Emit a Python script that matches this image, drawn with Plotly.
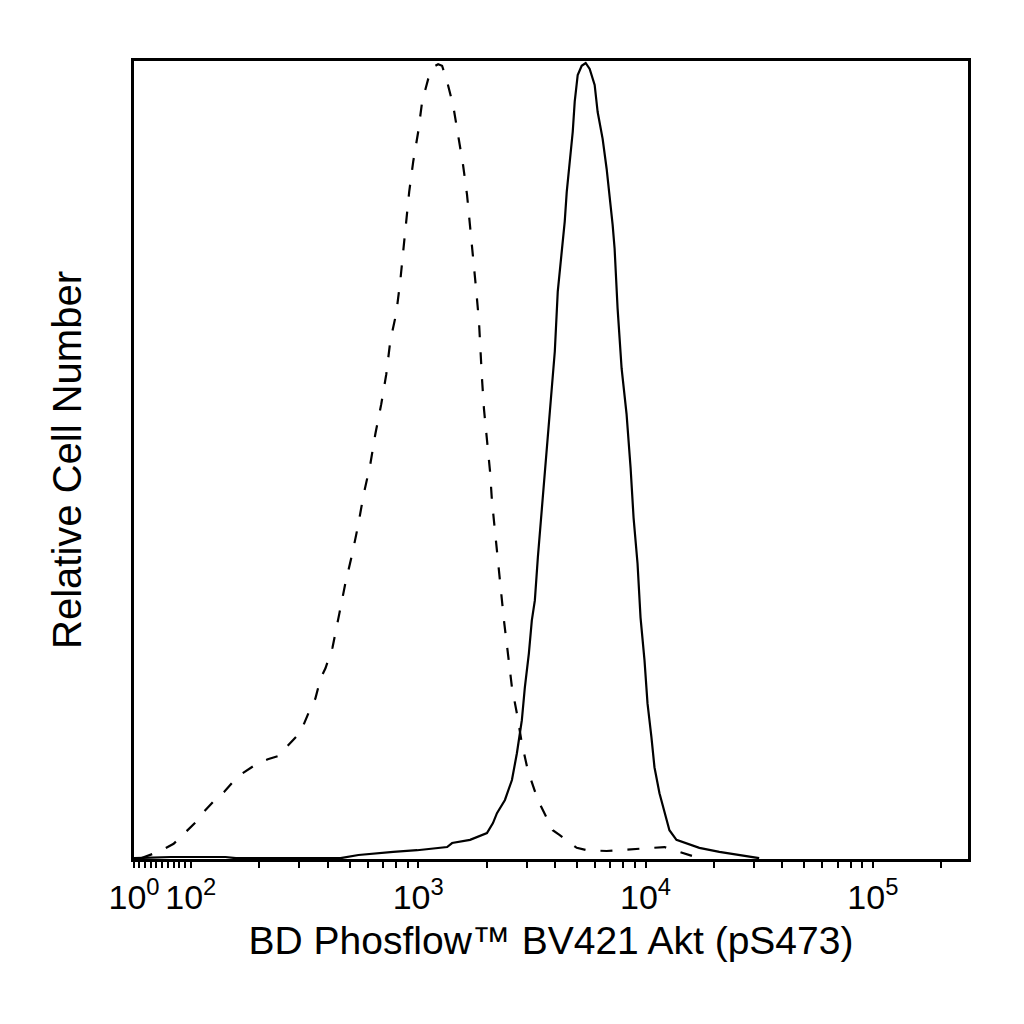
import math
import plotly.graph_objs as go

# fluorescence intensity (BV421) and relative cell number (% of peak)
unstim_x = [13, 27, 44, 70, 86, 105, 114, 131, 140, 158, 169, 197, 218, 248, 261, 295, 310, 336,
            353, 372, 391, 420, 450, 478, 513, 546, 574, 616, 648, 688, 724, 754, 801, 834, 859,
            886, 913, 951, 1000, 1041, 1107, 1164, 1224, 1274, 1341, 1424, 1498, 1575, 1640,
            1691, 1742, 1797, 1851, 1871, 1908, 1947, 2007, 2070, 2111, 2176, 2243, 2312, 2384,
            2482, 2585, 2718, 2858, 3037, 3360, 3909, 4196, 4983, 5511, 6745, 9130, 12110, 17250]
unstim_y = [0.1, 0.5, 0.9, 1.9, 3.0, 4.6, 5.9, 7.75, 8.4, 10.1, 10.75, 12.0, 12.5, 13.0, 13.9,
            15.5, 16.5, 18.9, 20.1, 22.6, 23.9, 26.5, 30.75, 34.5, 38.25, 42, 45.5, 49.5, 53.25,
            57, 60.75, 64.9, 68.4, 72.4, 76.1, 79.9, 83.6, 87.4, 91.1, 94.9, 97.75, 99.25, 99.6,
            99.4, 97.4, 94.5, 90.75, 87, 83.25, 79.5, 75.75, 71.5, 67.4, 64, 60.25, 56.4, 52.75,
            48.6, 44.9, 41.1, 37.4, 33.6, 29.9, 25.75, 21.5, 18.25, 14.5, 11.1, 7.4, 3.6, 3.0,
            1.4, 1.1, 1.0, 1.25, 1.5, 0.1]

stim_x = [1, 65, 142, 158, 455, 546, 777, 990, 1341, 1410, 1691, 2007, 2133, 2221, 2408, 2585,
          2718, 2858, 2946, 3068, 3162, 3260, 3360, 3499, 3643, 3793, 3990, 4111, 4325, 4413,
          4503, 4642, 4784, 4882, 5032, 5240, 5456, 5681, 5975, 6159, 6478, 6745, 6952, 7167,
          7312, 7537, 7848, 8254, 8598, 8862, 9225, 9509, 9899, 10205, 10620, 10950, 11520,
          12110, 12740, 13680, 15130, 17250, 21120, 25840, 29460, 31620]
stim_y = [0.1, 0.25, 0.25, 0.1, 0.1, 0.5, 0.9, 1.1, 1.5, 2.0, 2.4, 3.25, 4.5, 5.75, 7.4, 9.9,
          13.25, 17.4, 21.5, 25.75, 29.9, 32.4, 37.75, 44, 50.25, 56.5, 63.6, 71.1, 77, 79.9,
          83.6, 87.4, 91.1, 94.9, 98.25, 99.4, 99.75, 99, 97, 93.6, 90.25, 86.5, 83.25, 79.5,
          76.5, 69, 61.5, 55.75, 49, 42.75, 37, 30.25, 24.9, 19.5, 15.25, 11.5, 8.25, 5.75,
          3.6, 2.4, 2.0, 1.4, 0.9, 0.5, 0.25, 0.1]

major_vals = [1, 100, 1000, 10000, 100000]
major_text = ['10<sup>0</sup>', '10<sup>2</sup>', '10<sup>3</sup>', '10<sup>4</sup>', '10<sup>5</sup>']
minor_vals = [10, 20, 30, 40, 50, 60, 70, 80, 90,
              200, 300, 400, 500, 600, 700, 800, 900,
              2000, 3000, 4000, 5000, 6000, 7000, 8000, 9000,
              20000, 30000, 40000, 50000, 60000, 70000, 80000, 90000, 200000]
x_max = 262144


def to_axis(v):
    # biexponential-like display: linear below 100, log above
    if v >= 100:
        return math.log10(v)
    return 1.75 + 0.25 * (v - 1) / 99.0


trace_unstim = go.Scatter(
    x=[to_axis(v) for v in unstim_x],
    y=unstim_y,
    mode='lines',
    line=dict(color='black', width=2.2, dash='12px,15px'),
    showlegend=False
)

trace_stim = go.Scatter(
    x=[to_axis(v) for v in stim_x],
    y=stim_y,
    mode='lines',
    line=dict(color='black', width=2.2),
    showlegend=False
)

layout = go.Layout(
    width=1024,
    height=1024,
    margin=dict(l=126, r=64, t=53, b=173),
    paper_bgcolor='white',
    plot_bgcolor='white',
    xaxis=dict(
        range=[to_axis(1), to_axis(x_max)],
        showgrid=False,
        zeroline=False,
        showline=True,
        linecolor='black',
        linewidth=3,
        mirror=True,
        tickmode='array',
        tickvals=[to_axis(v) for v in major_vals],
        ticktext=major_text,
        ticks='outside',
        ticklen=6,
        tickwidth=2,
        tickcolor='black',
        tickfont=dict(family='Liberation Sans, Arial', size=34, color='black'),
        minor=dict(
            tickmode='array',
            tickvals=[to_axis(v) for v in minor_vals],
            ticks='outside',
            ticklen=6,
            tickwidth=2,
            tickcolor='black',
            showgrid=False
        ),
        title=dict(
            text='BD Phosflow™ BV421 Akt (pS473)',
            font=dict(family='Liberation Sans, Arial', size=39, color='black'),
            standoff=12
        )
    ),
    yaxis=dict(
        range=[0, 100],
        showgrid=False,
        zeroline=False,
        showline=True,
        linecolor='black',
        linewidth=3,
        mirror=True,
        ticks='',
        showticklabels=False,
        title=dict(
            text='Relative Cell Number',
            font=dict(family='Liberation Sans, Arial', size=40, color='black'),
            standoff=38
        )
    )
)

fig = go.Figure(data=[trace_unstim, trace_stim], layout=layout)
fig.write_html("out.html")
